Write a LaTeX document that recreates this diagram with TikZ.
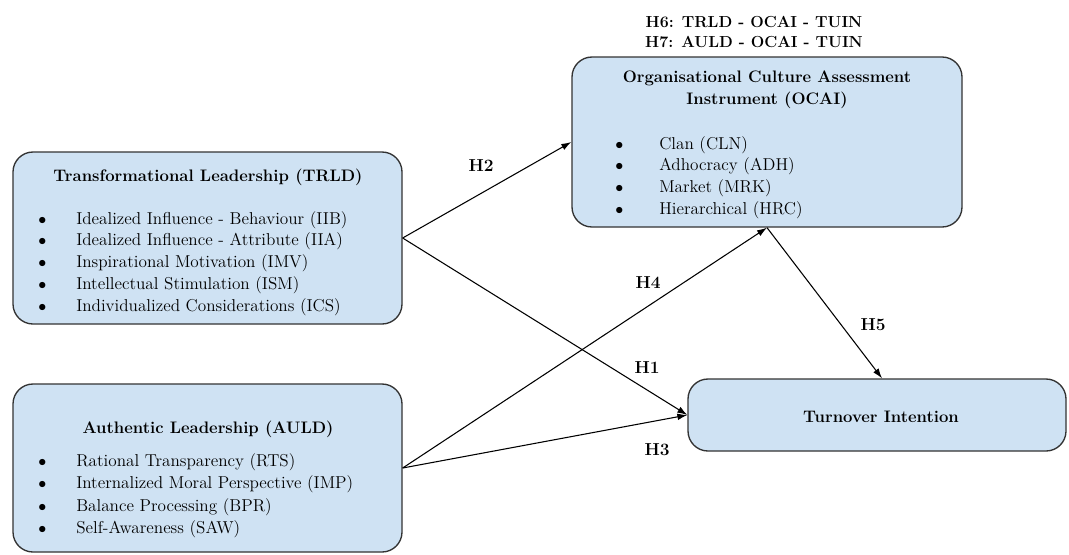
\documentclass[tikz,border=0pt]{standalone}
\usepackage{xcolor}
\usetikzlibrary{arrows.meta}

\definecolor{boxblue}{HTML}{CFE2F3}
\definecolor{boxline}{HTML}{333333}

\tikzset{
  varbox/.style={draw=boxline, fill=boxblue, line width=1pt, rounded corners=15pt, inner sep=0pt},
  boxtitle/.style={font=\fontsize{12.5}{16.5}\selectfont\bfseries, align=center, inner sep=0pt},
  itemline/.style={font=\fontsize{12.9}{16.5}\selectfont, anchor=west, inner sep=0pt},
  hyplabel/.style={font=\fontsize{13}{16.5}\selectfont\bfseries, inner sep=0pt},
  link/.style={line width=0.8pt, -{Latex[length=7.5pt,width=5pt]}}
}

\newcommand{\bul}[1][28.5pt]{\makebox[#1][l]{$\bullet$}}

\begin{document}
\begin{tikzpicture}[x=0.75pt, y=-0.75pt]
  \useasboundingbox (0,0) rectangle (1069,554);

  % Draw the boxes
  \node[varbox, minimum width=291.75pt, minimum height=129pt] (trld) at (207.5,238) {};
  \node[varbox, minimum width=291.75pt, minimum height=126pt] (auld) at (207.5,468) {};
  \node[varbox, minimum width=292.5pt, minimum height=127.5pt] (ocai) at (767,142) {};
  \node[varbox, minimum width=283.5pt, minimum height=54pt] (turn) at (877,415) {};

  % Transformational leadership
  \node[boxtitle] (trld-title) at (208,177) {Transformational Leadership (TRLD)};
  \foreach \txt [count=\i] in {Idealized Influence - Behaviour (IIB),
      Idealized Influence - Attribute (IIA), Inspirational Motivation (IMV),
      Intellectual Stimulation (ISM), Individualized Considerations (ICS)}
    \node[itemline] (trld-\i) at (38,198+21.8*\i) {\bul\txt};

  % Authentic leadership
  \node[boxtitle] (auld-title) at (208,429) {Authentic Leadership (AULD)};
  \foreach \txt [count=\i] in {Rational Transparency (RTS),
      Internalized Moral Perspective (IMP), Balance Processing (BPR),
      Self-Awareness (SAW)}
    \node[itemline] (auld-\i) at (38,440+22.3*\i) {\bul\txt};

  % Organisational culture
  \node[boxtitle] (ocai-title) at (767,90) {Organisational Culture Assessment\\Instrument (OCAI)};
  \foreach \txt [count=\i] in {Clan (CLN), Adhocracy (ADH), Market (MRK),
      Hierarchical (HRC)}
    \node[itemline] (ocai-\i) at (615,123+21.8*\i) {\bul[33pt]\txt};

  % Outcome
  \node[boxtitle] (turn-title) at (881,417) {Turnover Intention};

  % Mediation hypotheses
  \node[boxtitle, font=\fontsize{12}{15}\selectfont\bfseries] (med) at (754,32) {H6: TRLD - OCAI - TUIN\\H7: AULD - OCAI - TUIN};

  % Draw the paths
  \draw[link] (trld.east) -- (ocai.west);
  \draw[link] (trld.east) -- (turn.west);
  \draw[link] (auld.east) -- (ocai.south);
  \draw[link] (auld.east) -- (turn.west);
  \draw[link] (ocai.south) -- ([xshift=3.75pt]turn.north);

  \node[hyplabel] (h1) at (647,368) {H1};
  \node[hyplabel] (h2) at (481,166) {H2};
  \node[hyplabel] (h3) at (657,450) {H3};
  \node[hyplabel] (h4) at (648,283) {H4};
  \node[hyplabel] (h5) at (873,325) {H5};
\end{tikzpicture}
\end{document}
